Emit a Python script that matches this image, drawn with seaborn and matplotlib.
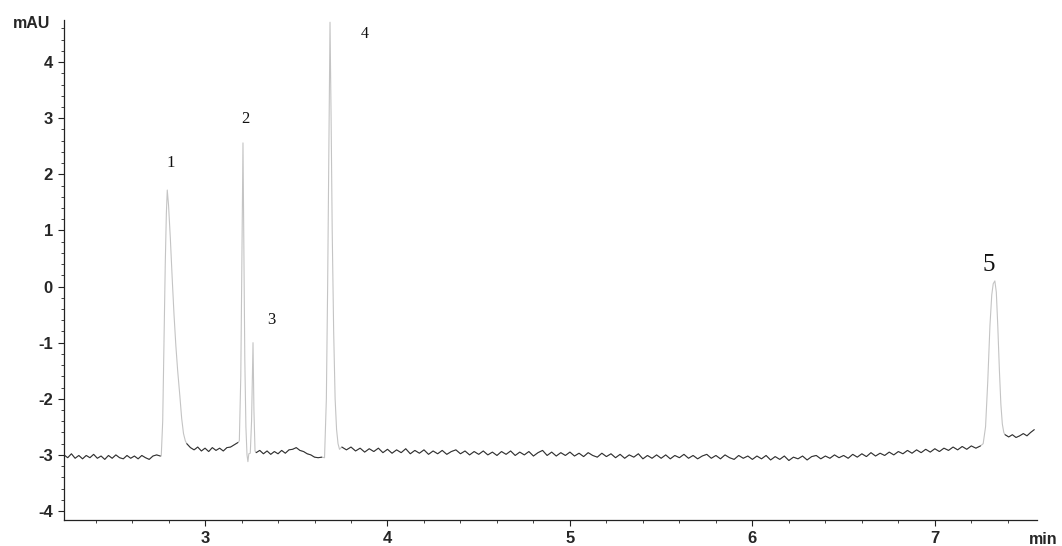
import numpy as np
import pandas as pd
import matplotlib
matplotlib.use("Agg")
import matplotlib.pyplot as plt
import seaborn as sns
from matplotlib.ticker import MultipleLocator

# ---------------- data ----------------
# baseline segments: (start time, end time) and signal values (mAU)
segA_range = (2.227, 2.755)
segA_vals = [-3.00, -3.05, -2.98, -3.06, -3.01, -3.07, -3.01, -3.05, -2.99, -3.06,
             -3.02, -3.08, -3.01, -3.06, -3.00, -3.05, -3.07, -3.01, -3.06, -3.02,
             -3.07, -3.01, -3.05, -3.08, -3.02, -3.00, -3.02]

segB_range = (2.90, 3.18)
segB_vals = [-2.80, -2.87, -2.91, -2.86, -2.93, -2.88, -2.94, -2.87, -2.92, -2.88,
             -2.93, -2.87, -2.86, -2.82, -2.78]

segC_range = (3.28, 3.64)
segC_vals = [-2.96, -2.92, -2.98, -2.93, -2.99, -2.94, -2.98, -2.92, -2.97, -2.91,
             -2.90, -2.87, -2.92, -2.94, -2.98, -3.00, -3.04, -3.05, -3.04]

segD_range = (3.75, 7.25)
segD_vals = [-2.86, -2.91, -2.86, -2.93, -2.88, -2.95, -2.89, -2.94, -2.88, -2.96,
             -2.90, -2.97, -2.91, -2.96, -2.89, -2.98, -2.92, -2.97, -2.91, -2.99,
             -2.93, -2.98, -2.92, -2.99, -2.94, -2.91, -2.98, -2.93, -3.00, -2.94,
             -2.99, -2.93, -3.00, -2.95, -3.01, -2.94, -2.99, -2.93, -3.01, -2.95,
             -3.00, -2.94, -3.02, -2.96, -2.92, -3.01, -2.95, -3.02, -2.96, -3.01,
             -2.95, -3.02, -2.97, -3.03, -2.96, -3.01, -3.04, -2.97, -3.03, -2.98,
             -3.05, -2.99, -3.06, -3.00, -3.04, -2.98, -3.07, -3.01, -3.06, -3.00,
             -3.06, -3.00, -3.07, -3.01, -3.05, -2.99, -3.06, -3.01, -3.07, -3.02,
             -2.99, -3.06, -3.01, -3.07, -3.00, -3.05, -3.08, -3.01, -3.06, -3.02,
             -3.08, -3.02, -3.07, -3.01, -3.09, -3.03, -3.08, -3.02, -3.10, -3.04,
             -3.07, -3.02, -3.09, -3.03, -3.01, -3.07, -3.02, -3.06, -3.00, -3.05,
             -3.01, -3.06, -2.99, -3.04, -2.98, -3.03, -2.96, -3.02, -2.97, -3.01,
             -2.95, -3.00, -2.94, -2.98, -2.92, -2.97, -2.91, -2.96, -2.90, -2.95,
             -2.89, -2.94, -2.88, -2.92, -2.86, -2.91, -2.85, -2.90, -2.84, -2.88,
             -2.84]

segE_range = (7.385, 7.545)
segE_vals = [-2.64, -2.68, -2.64, -2.69, -2.66, -2.62, -2.66, -2.60, -2.55]

# peaks: explicit (time, signal) samples
peak1_t = [2.760, 2.768, 2.775, 2.782, 2.788, 2.793, 2.800, 2.810, 2.820, 2.830,
           2.840, 2.850, 2.862, 2.872, 2.882, 2.892]
peak1_y = [-3.02, -2.40, -1.00, 0.40, 1.30, 1.72, 1.45, 0.85, 0.15, -0.50,
           -1.05, -1.50, -1.95, -2.35, -2.62, -2.75]
peak2_t = [3.188, 3.196, 3.202, 3.208, 3.213, 3.218, 3.224, 3.230, 3.235, 3.240]
peak2_y = [-2.75, -1.60, 0.40, 2.56, 0.60, -1.30, -2.50, -3.00, -3.12, -2.98]
peak3_t = [3.248, 3.255, 3.263, 3.268, 3.274]
peak3_y = [-2.97, -2.40, -1.00, -2.20, -2.93]
peak4_t = [3.655, 3.665, 3.672, 3.679, 3.685, 3.691, 3.697, 3.705, 3.713, 3.721,
           3.729, 3.737]
peak4_y = [-3.05, -2.00, 0.00, 2.60, 4.71, 3.00, 1.00, -0.80, -2.00, -2.55,
           -2.80, -2.90]
peak5_t = [7.265, 7.278, 7.290, 7.302, 7.312, 7.320, 7.329, 7.337, 7.345, 7.354,
           7.362, 7.370, 7.378]
peak5_y = [-2.80, -2.50, -1.70, -0.70, -0.15, 0.05, 0.10, -0.10, -0.70, -1.50,
           -2.10, -2.45, -2.60]

peak_labels = ["1", "2", "3", "4", "5"]
x_ticks = [3, 4, 5, 6, 7]
y_ticks = [-4, -3, -2, -1, 0, 1, 2, 3, 4]

# ---------------- assemble ----------------
def seg_df(rng, vals, name):
    t = np.linspace(rng[0], rng[1], len(vals))
    return pd.DataFrame({"time": t, "signal": vals, "part": name, "kind": "base"})

def peak_df(t, y, name):
    return pd.DataFrame({"time": t, "signal": y, "part": name, "kind": "peak"})

parts = [
    seg_df(segA_range, segA_vals, "A"),
    peak_df(peak1_t, peak1_y, "p1"),
    seg_df(segB_range, segB_vals, "B"),
    peak_df(peak2_t, peak2_y, "p2"),
    peak_df(peak3_t, peak3_y, "p3"),
    seg_df(segC_range, segC_vals, "C"),
    peak_df(peak4_t, peak4_y, "p4"),
    seg_df(segD_range, segD_vals, "D"),
    peak_df(peak5_t, peak5_y, "p5"),
    seg_df(segE_range, segE_vals, "E"),
]
df = pd.concat(parts, ignore_index=True)

# ---------------- plot ----------------
sns.set_style("ticks")
plt.rcParams["font.family"] = ["Liberation Sans", "DejaVu Sans"]
plt.rcParams["axes.unicode_minus"] = False

fig = plt.figure(figsize=(10.62, 5.46), dpi=100)
ax = fig.add_axes([64 / 1062, 1 - 520 / 546, (1037 - 64) / 1062, 500 / 546])

# full trace (faint, as the steep peak flanks look in the scan)
sns.lineplot(data=df, x="time", y="signal", sort=False, estimator=None,
             color="#c4c4c4", lw=0.8, ax=ax)
# baseline segments (darker noisy trace)
for name, g in df[df["kind"] == "base"].groupby("part"):
    sns.lineplot(data=g, x="time", y="signal", sort=False, estimator=None,
                 color="#2e2e2e", lw=0.75, ax=ax)

ax.set_xlim(2.227, 7.56)
ax.set_ylim(-4.16, 4.75)
ax.set_xlabel("")
ax.set_ylabel("")
ax.set_xticks(x_ticks)
ax.set_yticks(y_ticks)
ax.xaxis.set_minor_locator(MultipleLocator(0.2))
ax.yaxis.set_minor_locator(MultipleLocator(0.2))
ax.tick_params(axis="both", which="major", direction="out", length=4, width=0.8,
               color="#222", labelsize=12, pad=4)
ax.tick_params(axis="both", which="minor", direction="out", length=2.5, width=0.6,
               color="#222")
for lab in ax.get_xticklabels() + ax.get_yticklabels():
    lab.set_fontweight("bold")
sns.despine(ax=ax)
for s in ["left", "bottom"]:
    ax.spines[s].set_linewidth(0.9)
    ax.spines[s].set_color("#222")

# peak numbers
peak_tops = [(peak1_t[int(np.argmax(peak1_y))], max(peak1_y)),
             (peak2_t[int(np.argmax(peak2_y))], max(peak2_y)),
             (peak3_t[int(np.argmax(peak3_y))], max(peak3_y)),
             (peak4_t[int(np.argmax(peak4_y))], max(peak4_y)),
             (peak5_t[int(np.argmax(peak5_y))], max(peak5_y))]
label_offsets = [(0.016, 0.48), (0.011, 0.42), (0.10, 0.40), (0.19, -0.21), (-0.035, 0.29)]
label_sizes = [12, 12, 12, 11.5, 18]
for lab, (pt, py), (dx, dy), fs in zip(peak_labels, peak_tops, label_offsets, label_sizes):
    ax.text(pt + dx, py + dy, lab, ha="center", va="center", fontsize=fs,
            family=["Liberation Serif", "DejaVu Serif"], color="#111")

fig.text(32 / 1062, 1 - 24 / 546, "mAU", ha="center", va="center",
         fontsize=11.5, fontweight="bold")
fig.text(1043 / 1062, 1 - 539 / 546, "min", ha="center", va="center",
         fontsize=11.5, fontweight="bold")

fig.savefig("out.png", dpi=100, facecolor="white")
